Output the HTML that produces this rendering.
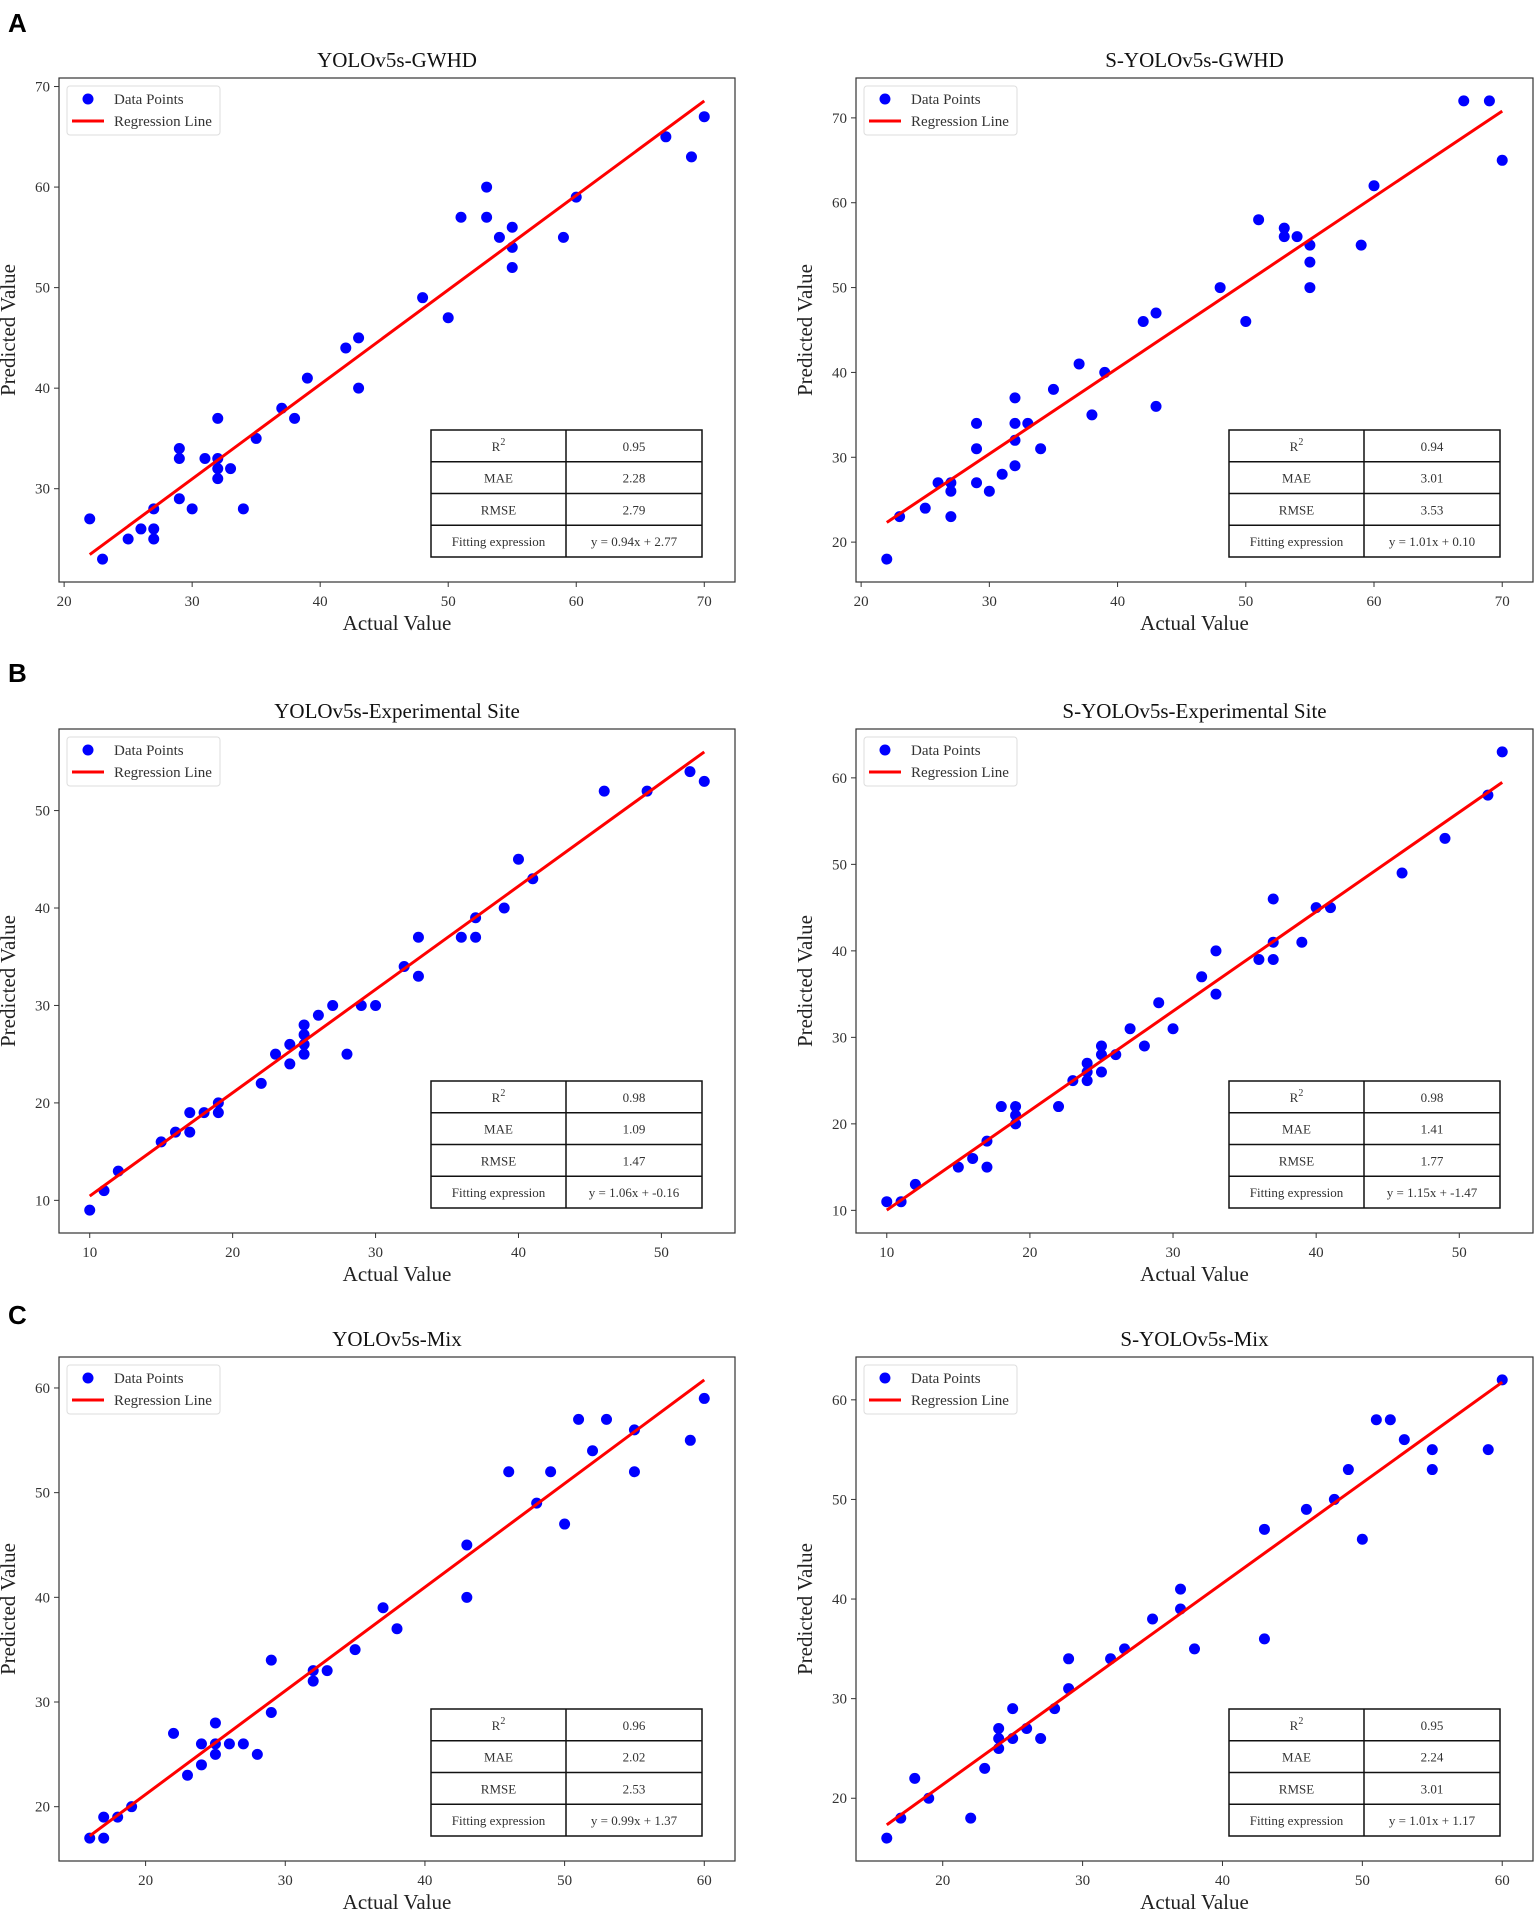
<!DOCTYPE html>
<html><head><meta charset="utf-8">
<style>
html,body{margin:0;padding:0;background:#fff;}
svg{display:block;font-family:"Liberation Serif",serif;}
.pl{font-family:"Liberation Sans",sans-serif;font-weight:bold;font-size:26px;}
</style></head>
<body>
<svg id="fig" width="1535" height="1910" viewBox="0 0 1535 1910" xmlns="http://www.w3.org/2000/svg">
<text class="pl" x="8" y="32">A</text>
<text class="pl" x="8" y="682">B</text>
<text class="pl" x="8" y="1324">C</text>
</svg>
<script>
// ---- data ----
const aLeftX=[22,23,25,26,27,27,27,29,29,29,30,31,32,32,32,32,33,34,35,37,38,39,42,43,43,48,50,51,53,53,54,55,55,55,59,60,67,69,70];
const aLeftY=[27,23,25,26,28,26,25,34,33,29,28,33,37,33,32,31,32,28,35,38,37,41,44,45,40,49,47,57,60,57,55,56,54,52,55,59,65,63,67];
const aLeftFit=[0.94,2.77];
const aLeftStats=["0.95","2.28","2.79","y = 0.94x + 2.77"];

const aRightX=[22,23,25,26,27,27,27,29,29,29,30,31,32,32,32,32,33,34,35,37,38,39,42,43,43,48,50,51,53,53,54,55,55,55,59,60,67,69,70];
const aRightY=[18,23,24,27,27,26,23,34,31,27,26,28,37,34,32,29,34,31,38,41,35,40,46,47,36,50,46,58,57,56,56,55,53,50,55,62,72,72,65];
const aRightFit=[1.01,0.10];
const aRightStats=["0.94","3.01","3.53","y = 1.01x + 0.10"];

const bLeftX=[10,11,12,15,16,17,17,18,19,19,22,23,24,24,25,25,25,25,26,27,28,29,30,32,33,33,36,37,37,39,40,41,46,49,52,53];
const bLeftY=[9,11,13,16,17,19,17,19,20,19,22,25,26,24,28,27,26,25,29,30,25,30,30,34,37,33,37,39,37,40,45,43,52,52,54,53];
const bLeftFit=[1.06,-0.16];
const bLeftStats=["0.98","1.09","1.47","y = 1.06x + -0.16"];

const bRightX=[10,11,12,15,16,17,17,18,19,19,19,22,23,24,24,24,25,25,25,26,27,28,29,30,32,33,33,36,37,37,37,39,40,41,46,49,52,53];
const bRightY=[11,11,13,15,16,18,15,22,22,21,20,22,25,27,26,25,29,28,26,28,31,29,34,31,37,40,35,39,46,41,39,41,45,45,49,53,58,63];
const bRightFit=[1.15,-1.47];
const bRightStats=["0.98","1.41","1.77","y = 1.15x + -1.47"];

const cLeftX=[16,17,17,18,19,22,23,24,24,25,25,25,26,27,28,29,29,32,32,33,35,37,38,43,43,46,48,49,50,51,52,53,55,55,59,60];
const cLeftY=[17,19,17,19,20,27,23,26,24,28,26,25,26,26,25,34,29,33,32,33,35,39,37,45,40,52,49,52,47,57,54,57,56,52,55,59];
const cLeftFit=[0.99,1.37];
const cLeftStats=["0.96","2.02","2.53","y = 0.99x + 1.37"];

const cRightX=[16,17,18,19,22,23,24,24,24,25,25,26,27,28,29,29,32,33,35,37,37,38,43,43,46,48,49,50,51,52,53,55,55,59,60];
const cRightY=[16,18,22,20,18,23,27,26,25,29,26,27,26,29,34,31,34,35,38,41,39,35,47,36,49,50,53,46,58,58,56,55,53,55,62];
const cRightFit=[1.01,1.17];
const cRightStats=["0.95","2.24","3.01","y = 1.01x + 1.17"];

const xTicksA=[20,30,40,50,60,70];
const yTicksALeft=[30,40,50,60,70];
const yTicksARight=[20,30,40,50,60,70];
const xTicksB=[10,20,30,40,50];
const yTicksBLeft=[10,20,30,40,50];
const yTicksBRight=[10,20,30,40,50,60];
const xTicksC=[20,30,40,50,60];
const yTicksC=[20,30,40,50,60];
const statLabels=["R2","MAE","RMSE","Fitting expression"];

const NS="http://www.w3.org/2000/svg";
const svg=document.getElementById('fig');
function mk(tag,attrs,parent){const e=document.createElementNS(NS,tag);for(const k in attrs)e.setAttribute(k,attrs[k]);(parent||svg).appendChild(e);return e;}

function panel(id,title,L,R,T,B,xs,ys,fit,stats,xt,yt){
  const g=mk('g',{});
  
  
  const xmin=Math.min(...xs),xmax=Math.max(...xs);
  const ly0=fit[0]*xmin+fit[1],ly1=fit[0]*xmax+fit[1];
  const ymin=Math.min(...ys,ly0,ly1),ymax=Math.max(...ys,ly0,ly1);
  const xr=xmax-xmin,yr=ymax-ymin;
  const x0=xmin-0.05*xr,x1=xmax+0.05*xr,y0=ymin-0.05*yr,y1=ymax+0.05*yr;
  const sx=v=>L+(v-x0)/(x1-x0)*(R-L);
  const sy=v=>B-(v-y0)/(y1-y0)*(B-T);
  const cx=(L+R)/2;
  const t=mk('text',{x:cx,y:T-11,'text-anchor':'middle','font-size':21,fill:'#111'},g);t.textContent=title;
  
  
  // ticks
  xt.forEach(v=>{const x=sx(v);
    mk('line',{x1:x,x2:x,y1:B,y2:B+5,stroke:'#333','stroke-width':1},g);
    const tl=mk('text',{x:x,y:B+24,'text-anchor':'middle','font-size':15,fill:'#333'},g);tl.textContent=v;
    
    });
  yt.forEach(v=>{const y=sy(v);
    mk('line',{x1:L-5,x2:L,y1:y,y2:y,stroke:'#333','stroke-width':1},g);
    const tl=mk('text',{x:L-9,y:y+5,'text-anchor':'end','font-size':15,fill:'#333'},g);tl.textContent=v;
    
    });
  const xl=mk('text',{x:cx,y:B+48,'text-anchor':'middle','font-size':21,fill:'#222'},g);xl.textContent='Actual Value';
  
  
  const yx=L-44,yy=(T+B)/2;
  const yl=mk('text',{x:yx,y:yy,'text-anchor':'middle','font-size':21,fill:'#222',transform:`rotate(-90 ${yx} ${yy})`},g);yl.textContent='Predicted Value';
  
  
  // points
  xs.forEach((v,i)=>{const c=mk('circle',{cx:sx(v),cy:sy(ys[i]),r:5.5,fill:'#0000ff'},g);
    
    });
  const ln=mk('line',{x1:sx(xmin),y1:sy(ly0),x2:sx(xmax),y2:sy(ly1),stroke:'#ff0000','stroke-width':3},g);
  
  
  // frame
  mk('rect',{x:L,y:T,width:R-L,height:B-T,fill:'none',stroke:'#333','stroke-width':1.2},g);
  // legend
  const lg=mk('g',{},g);
  
  
  mk('rect',{x:L+8,y:T+8,width:153,height:49,rx:3,fill:'#fff',stroke:'#ddd','stroke-width':1},lg);
  mk('circle',{cx:L+29,cy:T+21,r:5.5,fill:'#0000ff'},lg);
  mk('line',{x1:L+13,x2:L+45,y1:T+43,y2:T+43,stroke:'#ff0000','stroke-width':3},lg);
  const e1=mk('text',{x:L+55,y:T+26,'font-size':15,fill:'#333'},lg);e1.textContent='Data Points';
  const e2=mk('text',{x:L+55,y:T+48,'font-size':15,fill:'#333'},lg);e2.textContent='Regression Line';
  // table
  const tg=mk('g',{},g);
  
  
  const tr=R-33,tl=tr-271,tm=tl+135,tb=B-25,tt=tb-127,rh=(tb-tt)/4;
  mk('rect',{x:tl,y:tt,width:tr-tl,height:tb-tt,fill:'#fff',stroke:'#111','stroke-width':1.5},tg);
  mk('line',{x1:tm,x2:tm,y1:tt,y2:tb,stroke:'#111','stroke-width':1.5},tg);
  for(let i=1;i<4;i++)mk('line',{x1:tl,x2:tr,y1:tt+rh*i,y2:tt+rh*i,stroke:'#111','stroke-width':1.5},tg);
  statLabels.forEach((s,i)=>{const y=tt+rh*i+rh/2+5;
    const a=mk('text',{x:(tl+tm)/2,y:y,'text-anchor':'middle','font-size':13,fill:'#333'},tg);
    if(s==='R2'){a.textContent='R';const sp=mk('tspan',{dy:-6,'font-size':10},a);sp.textContent='2';}
    else a.textContent=s;
    const b=mk('text',{x:(tm+tr)/2,y:y,'text-anchor':'middle','font-size':13,fill:'#333'},tg);b.textContent=stats[i];});
}
const LL=59,LR=735,RL=856,RR=1533;
panel('yolov5s-gwhd','YOLOv5s-GWHD',LL,LR,78,582,aLeftX,aLeftY,aLeftFit,aLeftStats,xTicksA,yTicksALeft);
panel('s-yolov5s-gwhd','S-YOLOv5s-GWHD',RL,RR,78,582,aRightX,aRightY,aRightFit,aRightStats,xTicksA,yTicksARight);
panel('yolov5s-site','YOLOv5s-Experimental Site',LL,LR,729,1233,bLeftX,bLeftY,bLeftFit,bLeftStats,xTicksB,yTicksBLeft);
panel('s-yolov5s-site','S-YOLOv5s-Experimental Site',RL,RR,729,1233,bRightX,bRightY,bRightFit,bRightStats,xTicksB,yTicksBRight);
panel('yolov5s-mix','YOLOv5s-Mix',LL,LR,1357,1861,cLeftX,cLeftY,cLeftFit,cLeftStats,xTicksC,yTicksC);
panel('s-yolov5s-mix','S-YOLOv5s-Mix',RL,RR,1357,1861,cRightX,cRightY,cRightFit,cRightStats,xTicksC,yTicksC);
</script>
</body></html>
